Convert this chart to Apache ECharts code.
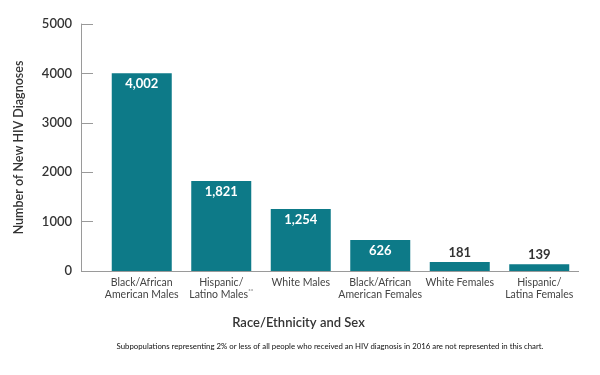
<!DOCTYPE html>
<html><head><meta charset="utf-8">
<script src="https://cdn.jsdelivr.net/npm/echarts@6/dist/echarts.min.js"></script>
<style>html,body{margin:0;padding:0;background:#fff}#c{width:600px;height:375px}</style>
</head><body><div id="c"></div>
<script>
var categories = ["Black/African\nAmerican Males", "Hispanic/\nLatino Males{sup|**}", "White Males", "Black/African\nAmerican Females", "White Females", "Hispanic/\nLatina Females"];
var values = [4002, 1821, 1254, 626, 181, 139];
var insideFlags = [true, true, true, true, false, false];
var yTicks = [0, 1000, 2000, 3000, 4000, 5000];

var FONT = 'Lato, "Open Sans", sans-serif';
var chart = echarts.init(document.getElementById('c'), null, {renderer: 'canvas'});
var data = values.map(function (v, i) {
  return {
    value: v,
    label: insideFlags[i]
      ? {position: 'insideTop', distance: 4, color: '#fff'}
      : {position: 'top', distance: 3, color: '#333'}
  };
});
chart.setOption({
  animation: false,
  title: {
    text: 'Subpopulations representing 2% or less of all people who received an HIV diagnosis in 2016 are not represented in this chart.',
    left: 325, top: 337, textAlign: 'center',
    textStyle: {fontSize: 7.8, fontWeight: 'normal', color: '#111', fontFamily: FONT}
  },
  grid: {left: 102, right: 21, top: 24, bottom: 104},
  xAxis: {
    type: 'category',
    data: categories,
    name: 'Race/Ethnicity and Sex',
    nameLocation: 'middle',
    nameGap: 45,
    nameTextStyle: {fontSize: 13, fontWeight: 600, color: '#333', fontFamily: FONT, padding: [0, 84, 0, 0]},
    axisLine: {show: false},
    axisTick: {show: false},
    axisLabel: {
      interval: 0, margin: 6, fontSize: 10.5, lineHeight: 11.5, color: '#444', fontFamily: FONT,
      rich: {sup: {fontSize: 6, verticalAlign: 'top', color: '#444', padding: [0, 0, 5, 0]}}
    }
  },
  yAxis: {
    type: 'value',
    min: 0, max: 5000, interval: 1000,
    offset: 21,
    name: 'Number of New HIV Diagnoses',
    nameLocation: 'middle',
    nameGap: 56,
    nameTextStyle: {fontSize: 12.5, fontWeight: 600, color: '#333', fontFamily: FONT},
    axisLine: {show: true, lineStyle: {color: '#9a9a9a', width: 1}},
    axisTick: {show: true, inside: true, length: 12, lineStyle: {color: '#9a9a9a'}},
    splitLine: {show: false},
    axisLabel: {margin: 9, fontSize: 13, fontWeight: 600, color: '#333', fontFamily: FONT,
      formatter: function (v) { return yTicks.indexOf(v) >= 0 ? String(v) : ''; }}
  },
  series: [{
    type: 'bar',
    data: data,
    barWidth: 60,
    itemStyle: {color: '#0d7a88'},
    label: {show: true, fontSize: 13, fontWeight: 'bold', fontFamily: FONT,
      formatter: function (p) { return p.value.toLocaleString('en-US'); }}
  }]
});
// extend the x axis baseline left to meet the offset y axis
var p0 = chart.convertToPixel({gridIndex: 0}, [0, 0]);
var gridRect = chart.getModel().getComponent('grid').coordinateSystem.getRect();
chart.setOption({
  graphic: [{type: 'line', shape: {x1: gridRect.x - 21, y1: p0[1] + 0.5, x2: gridRect.x + gridRect.width, y2: p0[1] + 0.5},
    style: {stroke: '#9a9a9a', lineWidth: 1}, z: 10}]
});
</script></body></html>
